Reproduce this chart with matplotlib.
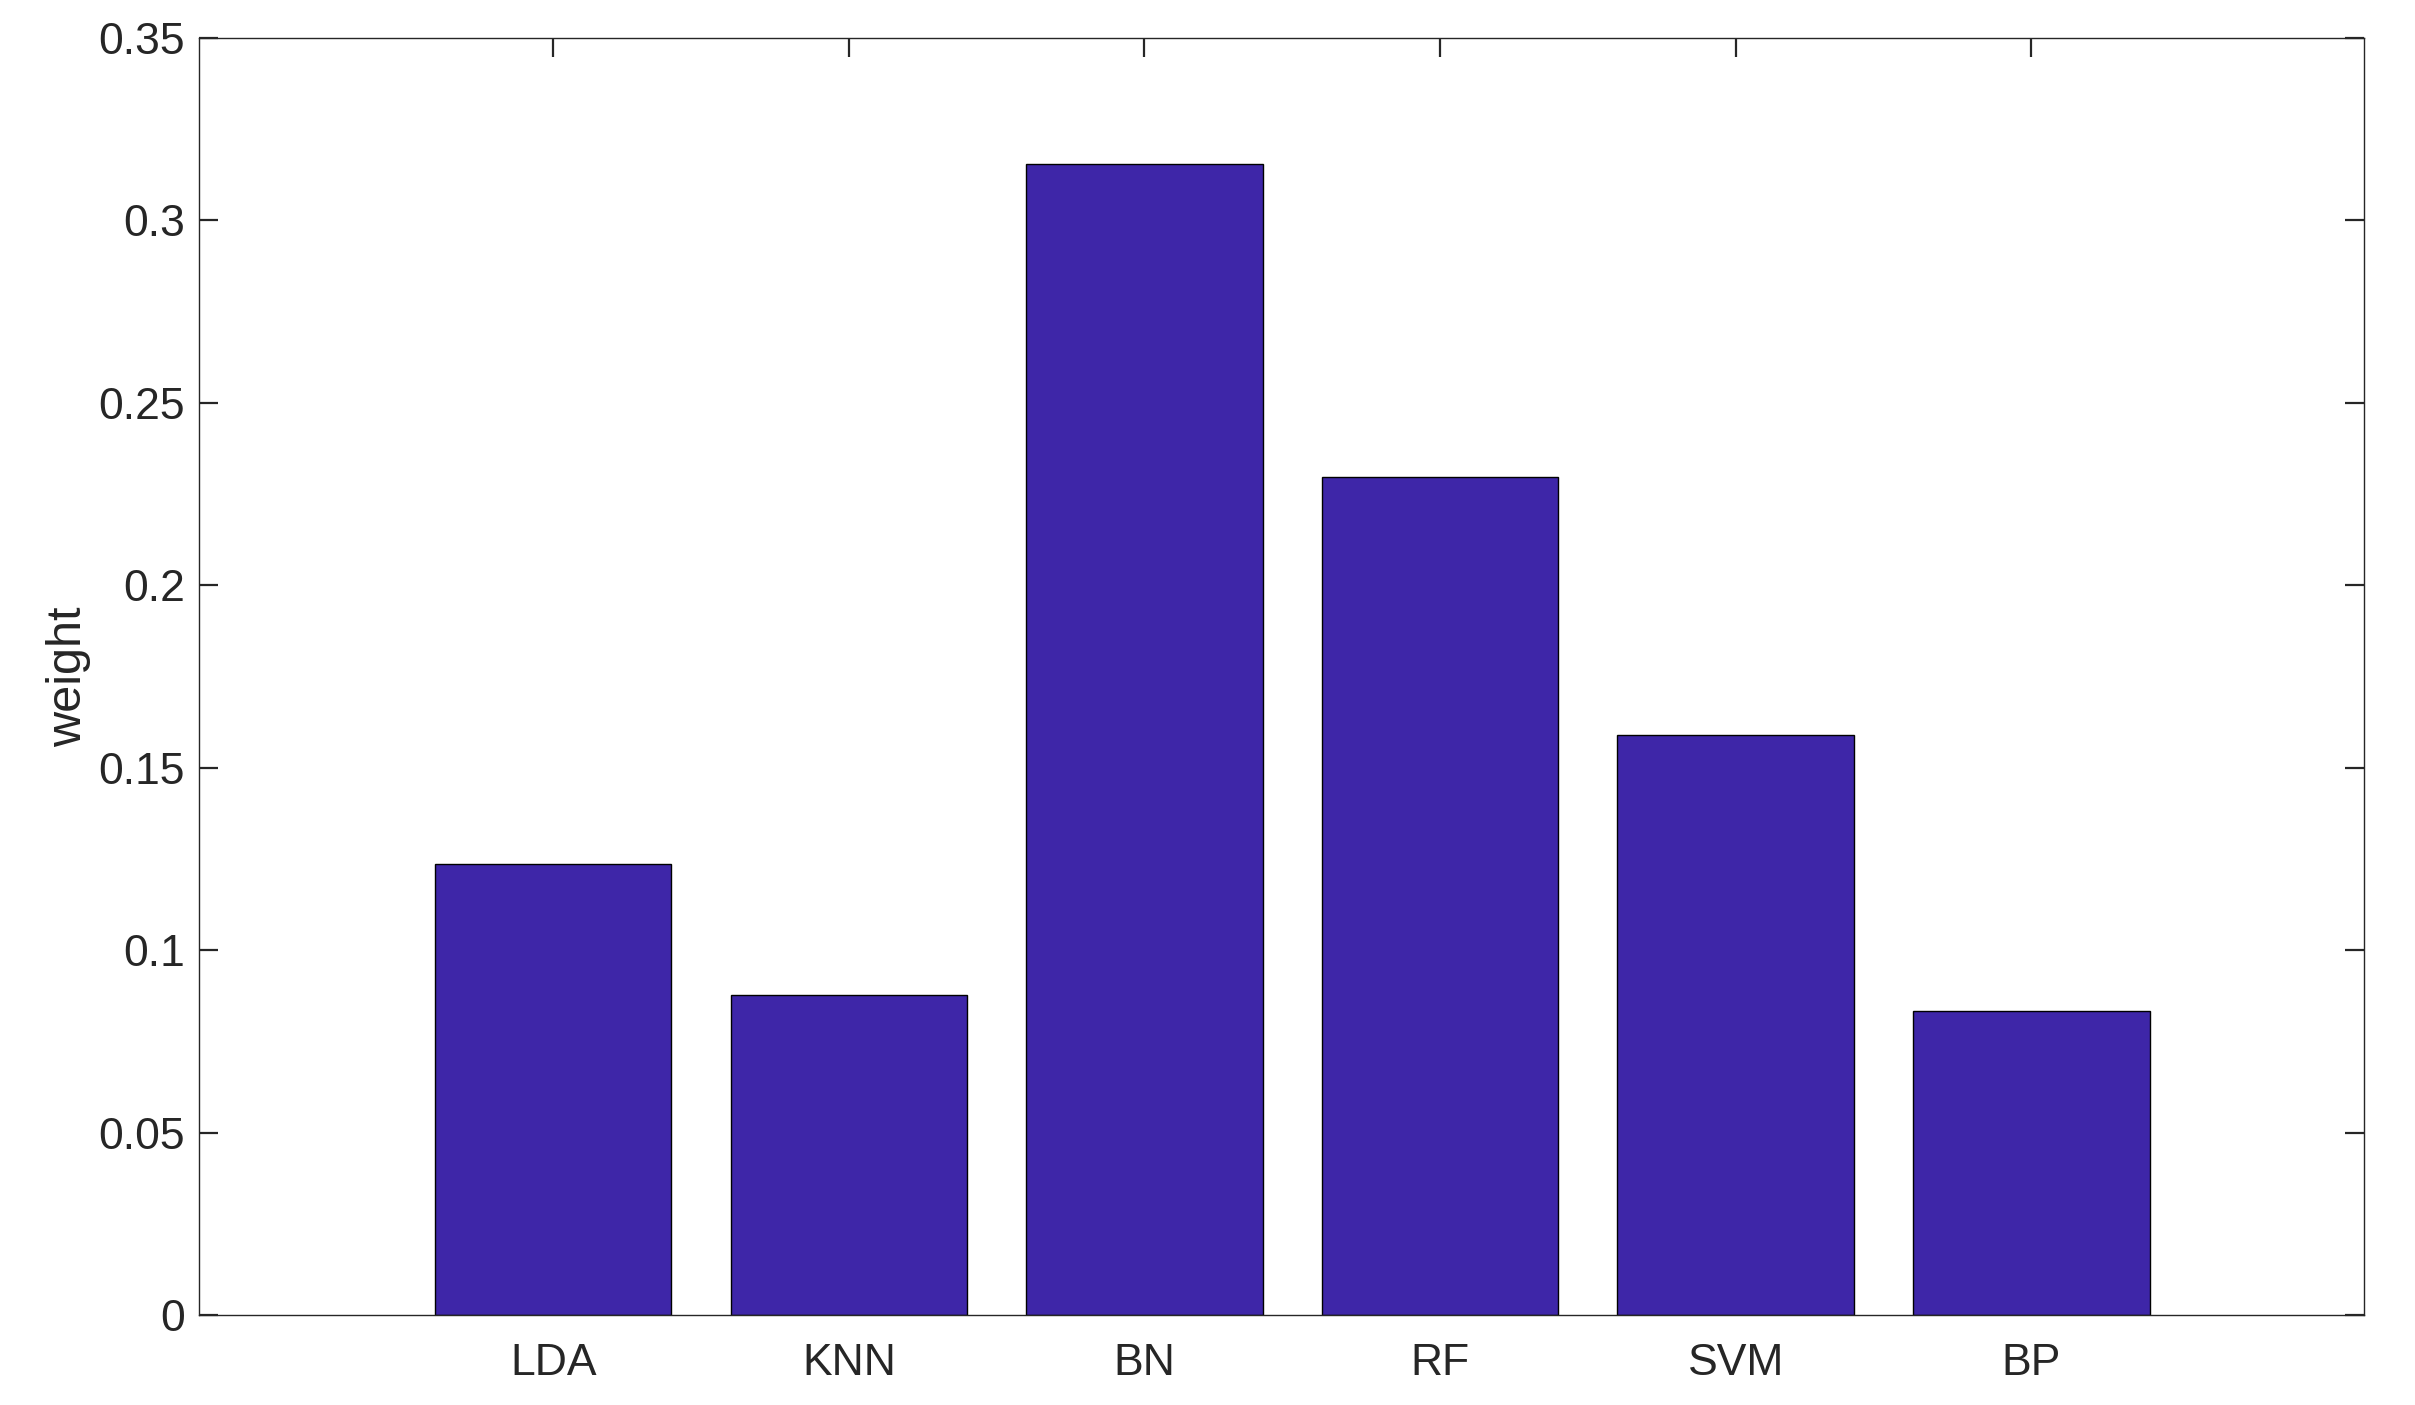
import numpy as np
import matplotlib
matplotlib.use("Agg")
import matplotlib.pyplot as plt

# Data
models = ["LDA", "KNN", "BN", "RF", "SVM", "BP"]
weights = [0.1237, 0.0878, 0.3155, 0.2296, 0.1591, 0.0832]

plt.rcParams['font.family'] = ['Liberation Sans', 'DejaVu Sans']

textColor = '#262626'
barColor = '#3e26a8'

fig = plt.figure(figsize=(12.075, 7.025), dpi=200)
ax = fig.add_axes([199 / 2415, 1 - 1315 / 1405, (2364 - 199) / 2415, (1315 - 38) / 1405])
ax.set_axisbelow(True)  # bars hide the bottom ticks like in the original

x = np.arange(1, len(models) + 1)
ax.bar(x, weights, width=0.8, color=barColor, edgecolor='black', linewidth=0.5)

ax.set_xlim(-0.198, 7.125)
ax.set_ylim(0, 0.35)
ax.set_xticks(x)
ax.set_xticklabels(models)
ax.set_yticks(np.arange(0, 0.351, 0.05))
ax.set_yticklabels(["0", "0.05", "0.1", "0.15", "0.2", "0.25", "0.3", "0.35"])

ax.tick_params(axis='both', direction='in', length=7, width=0.8, colors=textColor,
               labelsize=16, top=True, right=True)
ax.tick_params(axis='x', pad=10)
ax.tick_params(axis='y', pad=5)

for spine in ax.spines.values():
    spine.set_color(textColor)
    spine.set_linewidth(0.5)
    spine.set_zorder(3)

ax.set_ylabel("weight", fontsize=17.5, color=textColor)
ax.yaxis.set_label_coords(-0.05, 0.5)

fig.savefig("out.png", dpi=200)
